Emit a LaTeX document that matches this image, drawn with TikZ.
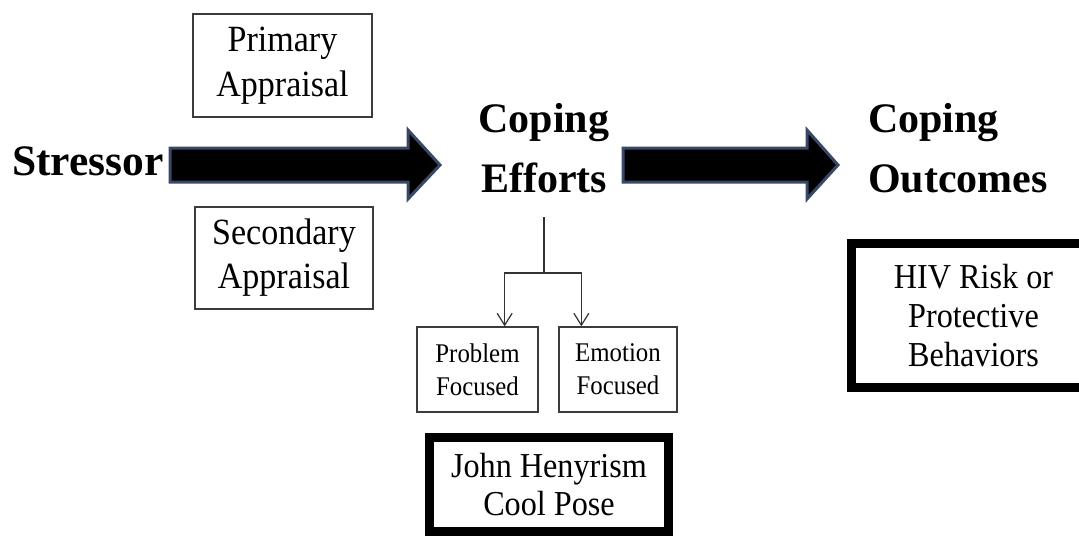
\documentclass[tikz,border=0pt]{standalone}
\usepackage{fontspec}
\setmainfont{Liberation Serif}
\newfontfamily\boxfont{Liberation Serif}[FakeStretch=0.92]
\usetikzlibrary{calc,arrows.meta}
\definecolor{arrowedge}{HTML}{3A4868}
\definecolor{thinedge}{HTML}{3C3C3C}
\tikzset{
  heading/.style={font=\fontsize{42}{60}\selectfont\bfseries, inner sep=0pt},
  thinbox/.style={draw=thinedge, line width=1.3pt, inner sep=0pt, align=center},
  thickbox/.style={draw=black, line width=9pt, inner sep=0pt, align=center},
  bigarrow/.style={fill=black, draw=arrowedge, line width=3pt, line join=miter},
  branch/.style={draw=black!80, line width=1.2pt},
  branchtip/.style={-{Straight Barb[length=12pt,width=15pt,line width=1.2pt]}}
}
\begin{document}
\begin{tikzpicture}[x=1pt,y=-1pt]
\useasboundingbox (0,0) rectangle (1079,536);
% headings
\node[heading, font=\fontsize{43.5}{60}\selectfont\bfseries, anchor=base west] (stressor) at (12,175) {Stressor};
\node[heading, align=center] (ce) at (544,148) {Coping\\Efforts};
\node[heading, align=left, anchor=west] (co) at (868,148) {Coping\\Outcomes};
% appraisal boxes
\node[thinbox, minimum width=179pt, minimum height=103pt,
      font=\boxfont\fontsize{37}{45}\selectfont] (pa) at (282.5,65.5) {Primary\\Appraisal};
\node[thinbox, minimum width=178pt, minimum height=102pt,
      font=\boxfont\fontsize{37}{44}\selectfont] (sa) at (284,258) {Secondary\\Appraisal};
% coping type boxes
\node[thinbox, minimum width=121pt, minimum height=85pt,
      font=\boxfont\fontsize{27}{33}\selectfont] (pf) at (477.5,369.5) {Problem\\Focused};
\node[thinbox, minimum width=118pt, minimum height=85pt,
      font=\boxfont\fontsize{27}{33}\selectfont] (ef) at (618,369.5) {Emotion\\Focused};
% thick boxes
\node[thickbox, minimum width=239pt, minimum height=94pt,
      font=\boxfont\fontsize{35}{38}\selectfont] (jh) at (549,484.5) {John Henyrism\\Cool Pose};
\node[thickbox, minimum width=244pt, minimum height=144pt, anchor=west,
      font=\boxfont\fontsize{35}{39}\selectfont] (hiv) at (847,315.5) {HIV Risk or\\Protective\\Behaviors};
% big arrows
\coordinate (a1s) at (170,165);
\coordinate (a1e) at (440,165);
\coordinate (a2s) at (623,165);
\coordinate (a2e) at (838,165);
\draw[bigarrow] ($(a1s)+(0,-17)$) -- ($(a1e)+(-32,-17)$) -- ($(a1e)+(-32,-35)$) -- (a1e)
  -- ($(a1e)+(-32,34)$) -- ($(a1e)+(-32,17)$) -- ($(a1s)+(0,17)$) -- cycle;
\draw[bigarrow] ($(a2s)+(0,-17)$) -- ($(a2e)+(-31,-17)$) -- ($(a2e)+(-31,-35)$) -- (a2e)
  -- ($(a2e)+(-31,34)$) -- ($(a2e)+(-31,17)$) -- ($(a2s)+(0,17)$) -- cycle;
% branch
\coordinate (btop) at (544,217);
\coordinate (bj) at (544,273);
\draw[branch] (btop) -- (bj);
\draw[branch, branchtip] (bj) -| ([xshift=-34pt]pf.north east);
\draw[branch, branchtip] (bj) -| ([xshift=23pt]ef.north west);
\end{tikzpicture}
\end{document}
